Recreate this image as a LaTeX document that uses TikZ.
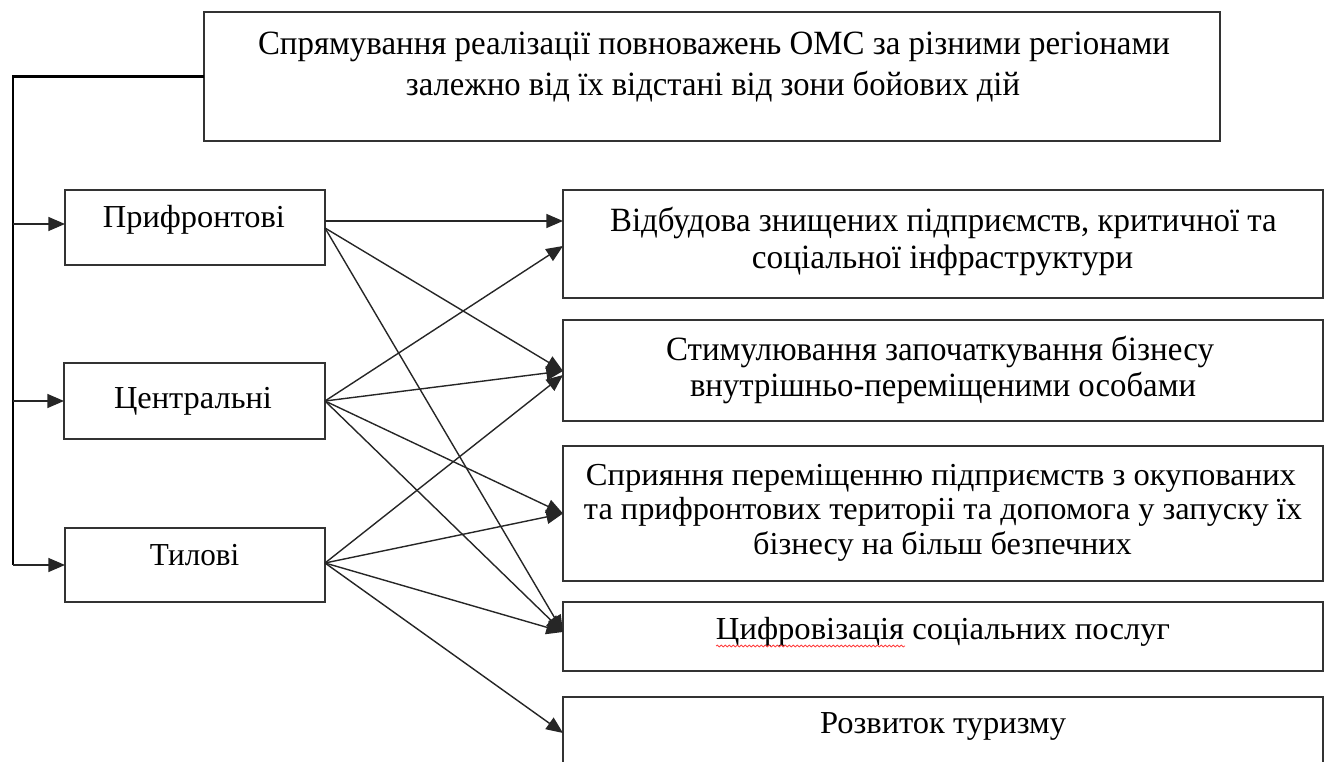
\documentclass[tikz,border=0pt]{standalone}
\usepackage{fontspec}
\setmainfont{Liberation Serif}
\usepackage{graphicx}
\usetikzlibrary{arrows.meta,calc,decorations.pathmorphing}
\newcommand{\fitw}[2]{\resizebox{#1pt}{\height}{#2}}
\begin{document}
\begin{tikzpicture}[x=0.75pt,y=-0.75pt,
  box/.style={draw=black!80, line width=1.2pt, rectangle, inner sep=0pt, outer sep=0pt},
  txt/.style={inner sep=0pt, outer sep=0pt, anchor=base, font=\fontsize{24}{28}\selectfont, text=black},
  bigtxt/.style={txt, font=\fontsize{25.5}{30}\selectfont},
  conn/.style={draw=black!85, line width=1.05pt, -{Triangle[length=12.5pt,width=10.5pt]}},
  brk/.style={draw=black, line width=2.1pt},
  spell/.style={draw=red!75, line width=0.6pt, decorate, decoration={snake, amplitude=0.7pt, segment length=3pt}}
]
\useasboundingbox (0,0) rectangle (1327,762);
\clip (0,0) rectangle (1327,762);

% boxes
\node[box, minimum width=762pt, minimum height=96.75pt] (top) at (712,76.5) {};
\node[box, minimum width=195pt, minimum height=56.25pt] (P) at (195,227.5) {};
\node[box, minimum width=195.75pt, minimum height=57pt] (C) at (194.5,401) {};
\node[box, minimum width=195pt, minimum height=55.5pt] (T) at (195,565) {};
\node[box, minimum width=570pt, minimum height=81pt] (R1) at (943,244) {};
\node[box, minimum width=570pt, minimum height=75.75pt] (R2) at (943,370.5) {};
\node[box, minimum width=570pt, minimum height=101.25pt] (R3) at (943,513.5) {};
\node[box, minimum width=570pt, minimum height=51.75pt] (R4) at (943,636.5) {};
\node[box, minimum width=570pt, minimum height=77.25pt] (R5) at (943,748.5) {};

% texts
\node[bigtxt] (topA) at (714,55) {\fitw{684}{Спрямування реалізації повноважень ОМС за різними регіонами}};
\node[bigtxt] (topB) at (713,96) {\fitw{460.5}{залежно від їх відстані від зони бойових дій}};
\node[txt] (Pt) at (194,228) {\fitw{136.5}{Прифронтові}};
\node[txt] (Ct) at (193,409) {\fitw{118.5}{Центральні}};
\node[txt] (Tt) at (194.5,565) {\fitw{67}{Тилові}};
\node[bigtxt] (R1A) at (943.5,232) {\fitw{500}{Відбудова знищених підприємств, критичної та}};
\node[bigtxt] (R1B) at (942.5,269) {\fitw{286}{соціальної інфраструктури}};
\node[bigtxt] (R2A) at (940,361) {\fitw{411}{Стимулювання започаткування бізнесу}};
\node[bigtxt] (R2B) at (943,397) {\fitw{379.5}{внутрішньо-переміщеними особами}};
\node[txt] (R3A) at (941,485) {\fitw{532.5}{Сприяння переміщенню підприємств з окупованих}};
\node[txt] (R3B) at (943,519) {\fitw{538.5}{та прифронтових територіі та допомога у запуску їх}};
\node[txt] (R3C) at (942.5,554) {\fitw{284}{бізнесу на більш безпечних}};
\node[txt] (R4t) at (943,639) {\fitw{340.5}{Цифровізація соціальних послуг}};
\node[txt] (R5t) at (943,733) {\fitw{184.5}{Розвиток туризму}};
\draw[spell] (716,646) -- (905,646);

% bracket
\coordinate (bx) at (13,0);
\coordinate (Pw) at ($(P.west)+(0,-3.5)$);
\draw[brk] (top.west) -- (bx |- top.west) -- (bx |- T.west);
\draw[conn] (bx |- Pw) -- (Pw);
\draw[conn] (bx |- C.west) -- (C.west);
\draw[conn] (bx |- T.west) -- (T.west);

% connector anchors
\coordinate (Pe1) at ($(P.east)+(0,-6.5)$);
\coordinate (Pe2) at ($(P.east)+(0,0.5)$);
\coordinate (Te) at ($(T.east)+(0,-2)$);
\coordinate (R1a) at ($(R1.west)+(0,-23)$);
\coordinate (R1b) at ($(R1.west)+(0,2)$);
\coordinate (R2a) at ($(R2.west)+(0,0.5)$);
\coordinate (R2b) at ($(R2.west)+(0,4.5)$);
\coordinate (R4a) at ($(R4.west)+(0,-4.5)$);
\coordinate (R5a) at ($(R5.west)+(0,-15.5)$);

\draw[conn] (Pe1) -- (R1a);
\draw[conn] (Pe2) -- (R2a);
\draw[conn] (Pe2) -- (R4a);
\draw[conn] (C.east) -- (R1b);
\draw[conn] (C.east) -- (R2a);
\draw[conn] (C.east) -- (R3.west);
\draw[conn] (C.east) -- (R4a);
\draw[conn] (Te) -- (R2b);
\draw[conn] (Te) -- (R3.west);
\draw[conn] (Te) -- (R4a);
\draw[conn] (Te) -- (R5a);
\end{tikzpicture}
\end{document}
